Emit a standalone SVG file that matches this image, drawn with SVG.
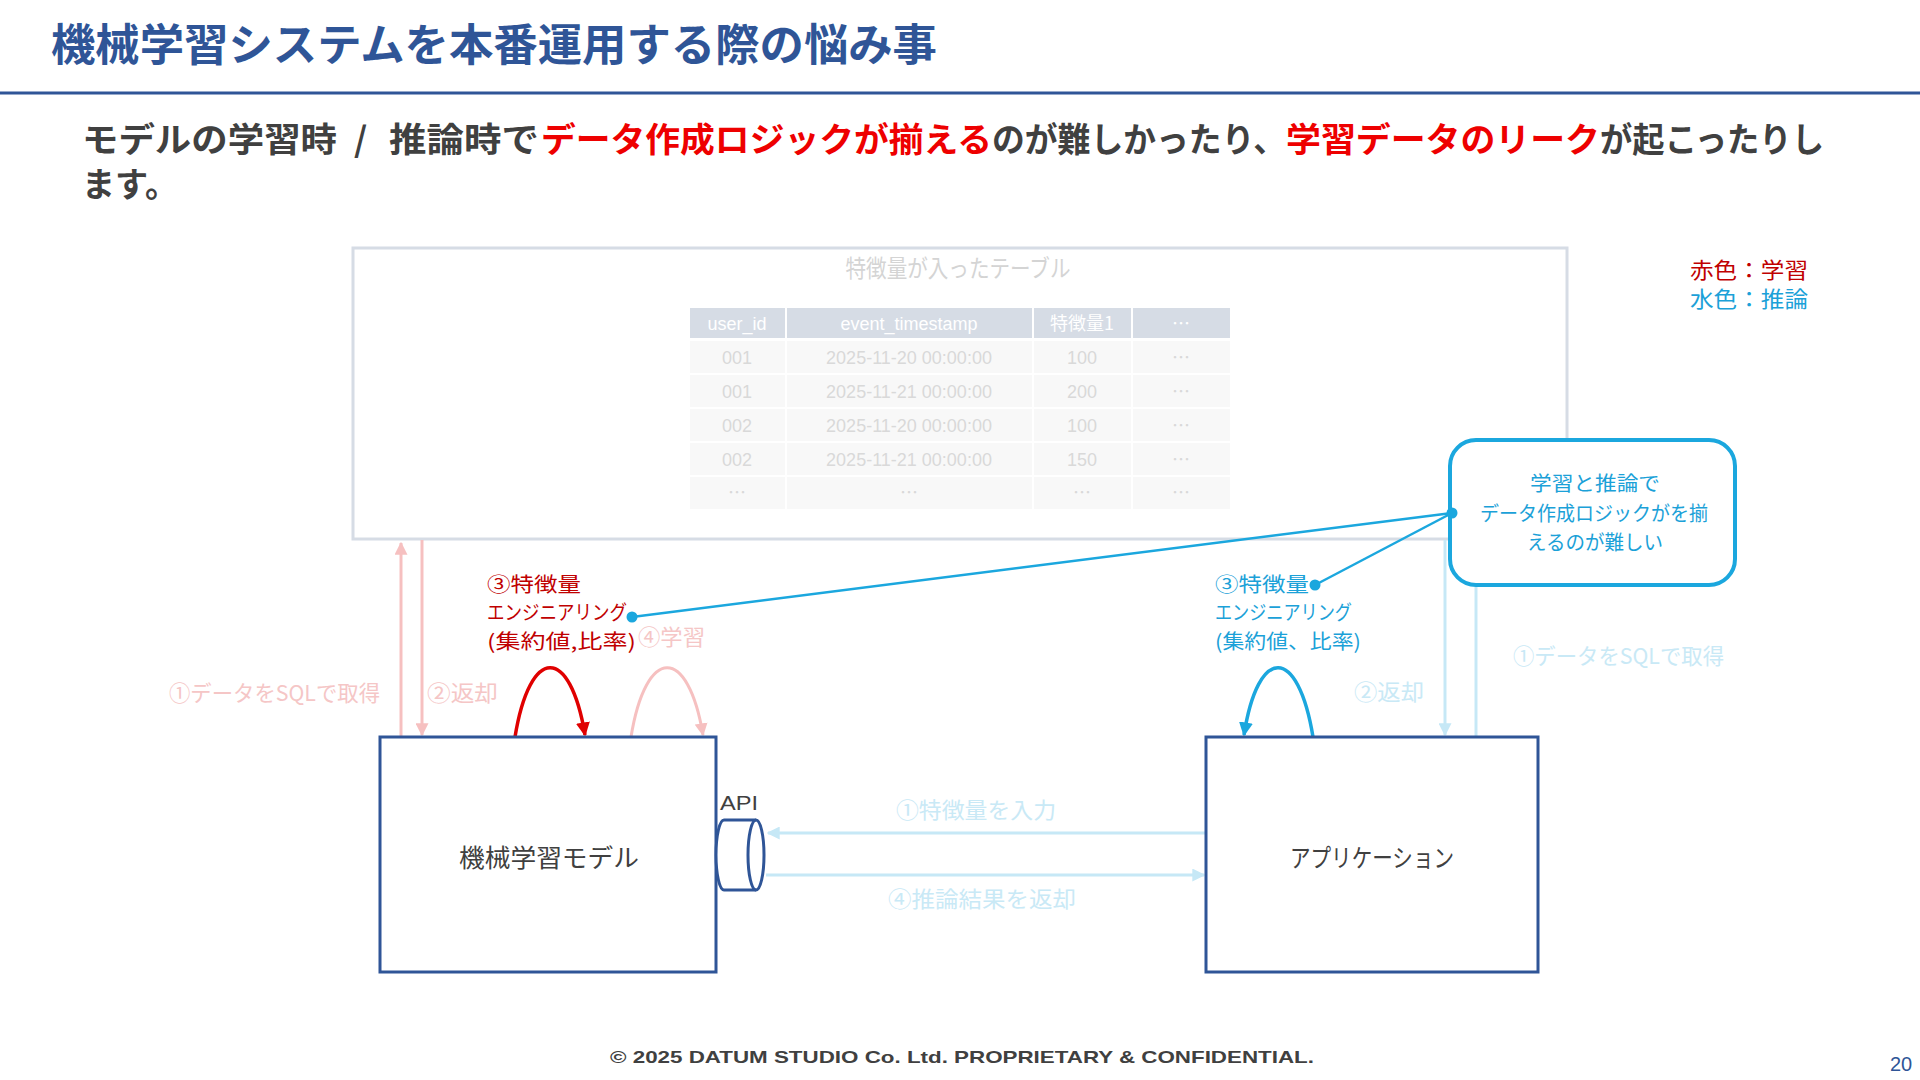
<svg xmlns="http://www.w3.org/2000/svg" width="1920" height="1080" viewBox="0 0 1920 1080">
<defs>
<style>
text{font-family:"Noto Sans CJK JP","Noto Sans",sans-serif;}
.lat{font-family:"Liberation Sans","Noto Sans CJK JP",sans-serif;}
.title{font-size:44px;font-weight:700;fill:#2F5597;}
.sub{font-size:34px;font-weight:700;fill:#404040;}
.subr{font-size:34px;font-weight:700;fill:#EE0000;}
.th{font-size:18px;fill:#FFFFFF;text-anchor:middle;}
.td{font-size:18px;fill:#D9D9D9;text-anchor:middle;}
.hdr{fill:#D6DCE5;}
.row{fill:#F8F8F8;}
.box{fill:#FFFFFF;stroke:#2F5597;stroke-width:3;}
.boxlbl{font-size:25px;fill:#404040;}
.red{font-size:20px;fill:#C00000;}
.cyan{font-size:20px;fill:#1BA1D8;}
.pinkt{font-size:22px;fill:#F5C6C6;}
.lcyant{font-size:22px;fill:#C9E9F6;}
.pink{fill:none;stroke:#F6C0C0;stroke-width:3;}
.lcyan{fill:none;stroke:#C6E8F6;stroke-width:3;}
.redl{fill:none;stroke:#E00000;stroke-width:3.5;}
.cyanl{fill:none;stroke:#1BA7DE;stroke-width:3.5;}
.call{fill:none;stroke:#1BA7DE;stroke-width:2.5;}
</style>
<marker id="mPink" viewBox="0 0 10 10" refX="9" refY="5" markerWidth="13" markerHeight="13" markerUnits="userSpaceOnUse" orient="auto"><path d="M0,0 L10,5 L0,10 z" fill="#F6C0C0"/></marker>
<marker id="mLcyan" viewBox="0 0 10 10" refX="9" refY="5" markerWidth="13" markerHeight="13" markerUnits="userSpaceOnUse" orient="auto"><path d="M0,0 L10,5 L0,10 z" fill="#C6E8F6"/></marker>
<marker id="mRed" viewBox="0 0 10 10" refX="9" refY="5" markerWidth="14" markerHeight="14" markerUnits="userSpaceOnUse" orient="auto"><path d="M0,0 L10,5 L0,10 z" fill="#E00000"/></marker>
<marker id="mCyan" viewBox="0 0 10 10" refX="9" refY="5" markerWidth="14" markerHeight="14" markerUnits="userSpaceOnUse" orient="auto"><path d="M0,0 L10,5 L0,10 z" fill="#1BA7DE"/></marker>
</defs>
<rect width="1920" height="1080" fill="#FFFFFF"/>

<g id="header">
<text class="title" x="51" y="61" textLength="886" lengthAdjust="spacingAndGlyphs">機械学習システムを本番運用する際の悩み事</text>
<line x1="0" y1="93" x2="1920" y2="93" stroke="#2F5597" stroke-width="3"/>
</g>

<g id="subtitle">
<text class="sub" x="82" y="152" textLength="255" lengthAdjust="spacingAndGlyphs">モデルの学習時</text>
<text class="sub" x="354" y="152">/</text>
<text class="sub" x="389" y="152" textLength="150" lengthAdjust="spacingAndGlyphs">推論時で</text>
<text class="subr" x="541" y="152" textLength="451" lengthAdjust="spacingAndGlyphs">データ作成ロジックが揃える</text>
<text class="sub" x="992" y="152" textLength="294" lengthAdjust="spacingAndGlyphs">のが難しかったり、</text>
<text class="subr" x="1286" y="152" textLength="314" lengthAdjust="spacingAndGlyphs">学習データのリーク</text>
<text class="sub" x="1600" y="152" textLength="224" lengthAdjust="spacingAndGlyphs">が起こったりし</text>
<text class="sub" x="82" y="197" textLength="96" lengthAdjust="spacingAndGlyphs">ます。</text>
</g>

<g id="legend">
<text x="1690" y="278" font-size="22" fill="#C00000" textLength="118" lengthAdjust="spacingAndGlyphs">赤色：学習</text>
<text x="1690" y="307" font-size="22" fill="#1BA1D8" textLength="118" lengthAdjust="spacingAndGlyphs">水色：推論</text>
</g>

<g id="feature-table">
<rect x="353" y="248" width="1214" height="291" fill="#FFFFFF" stroke="#D6DCE5" stroke-width="3"/>
<text x="958" y="277" font-size="24" fill="#D4D4D4" text-anchor="middle" textLength="225" lengthAdjust="spacingAndGlyphs">特徴量が入ったテーブル</text>
<rect class="hdr" x="690" y="308" width="95" height="30"/>
<rect class="hdr" x="787" y="308" width="245" height="30"/>
<rect class="hdr" x="1034" y="308" width="97" height="30"/>
<rect class="hdr" x="1133" y="308" width="97" height="30"/>
<text class="th lat" x="737" y="330">user_id</text>
<text class="th lat" x="909" y="330">event_timestamp</text>
<text class="th" x="1082" y="330">特徴量1</text>
<text class="th" x="1181" y="330">…</text>
<g>
<rect class="row" x="690" y="341" width="95" height="32"/><rect class="row" x="787" y="341" width="245" height="32"/><rect class="row" x="1034" y="341" width="97" height="32"/><rect class="row" x="1133" y="341" width="97" height="32"/>
<rect class="row" x="690" y="375" width="95" height="32"/><rect class="row" x="787" y="375" width="245" height="32"/><rect class="row" x="1034" y="375" width="97" height="32"/><rect class="row" x="1133" y="375" width="97" height="32"/>
<rect class="row" x="690" y="409" width="95" height="32"/><rect class="row" x="787" y="409" width="245" height="32"/><rect class="row" x="1034" y="409" width="97" height="32"/><rect class="row" x="1133" y="409" width="97" height="32"/>
<rect class="row" x="690" y="443" width="95" height="32"/><rect class="row" x="787" y="443" width="245" height="32"/><rect class="row" x="1034" y="443" width="97" height="32"/><rect class="row" x="1133" y="443" width="97" height="32"/>
<rect class="row" x="690" y="477" width="95" height="32"/><rect class="row" x="787" y="477" width="245" height="32"/><rect class="row" x="1034" y="477" width="97" height="32"/><rect class="row" x="1133" y="477" width="97" height="32"/>
</g>
<text class="td lat" x="737" y="364">001</text><text class="td lat" x="909" y="364">2025-11-20 00:00:00</text><text class="td lat" x="1082" y="364">100</text><text class="td" x="1181" y="364">…</text>
<text class="td lat" x="737" y="398">001</text><text class="td lat" x="909" y="398">2025-11-21 00:00:00</text><text class="td lat" x="1082" y="398">200</text><text class="td" x="1181" y="398">…</text>
<text class="td lat" x="737" y="432">002</text><text class="td lat" x="909" y="432">2025-11-20 00:00:00</text><text class="td lat" x="1082" y="432">100</text><text class="td" x="1181" y="432">…</text>
<text class="td lat" x="737" y="466">002</text><text class="td lat" x="909" y="466">2025-11-21 00:00:00</text><text class="td lat" x="1082" y="466">150</text><text class="td" x="1181" y="466">…</text>
<text class="td" x="737" y="499">…</text><text class="td" x="909" y="499">…</text><text class="td" x="1082" y="499">…</text><text class="td" x="1181" y="499">…</text>
</g>

<g id="connectors">
<line class="pink" x1="401" y1="737" x2="401" y2="543" marker-end="url(#mPink)"/>
<line class="pink" x1="422" y1="540" x2="422" y2="735" marker-end="url(#mPink)"/>
<path class="pink" d="M631,737 C646,645 688,645 703,735" marker-end="url(#mPink)"/>
<path class="redl" d="M515,737 C530,645 570,645 585,735" marker-end="url(#mRed)"/>
<line class="lcyan" x1="1445" y1="540" x2="1445" y2="735" marker-end="url(#mLcyan)"/>
<line class="lcyan" x1="1476" y1="737" x2="1476" y2="543" marker-end="url(#mLcyan)"/>
<path class="cyanl" d="M1313,737 C1298,645 1258,645 1244,735" marker-end="url(#mCyan)"/>
<line class="lcyan" x1="1206" y1="833" x2="768" y2="833" marker-end="url(#mLcyan)"/>
<line class="lcyan" x1="766" y1="875" x2="1204" y2="875" marker-end="url(#mLcyan)"/>
<line class="call" x1="1452" y1="513" x2="632" y2="617"/>
<line class="call" x1="1452" y1="513" x2="1315" y2="585"/>
</g>

<g id="callout">
<rect x="1450" y="440" width="285" height="145" rx="26" ry="26" fill="#FFFFFF" stroke="#1BA7DE" stroke-width="4"/>
<text class="cyan" x="1595" y="491" text-anchor="middle" textLength="130" lengthAdjust="spacingAndGlyphs">学習と推論で</text>
<text class="cyan" x="1594" y="521" text-anchor="middle" textLength="228" lengthAdjust="spacingAndGlyphs">データ作成ロジックがを揃</text>
<text class="cyan" x="1595" y="550" text-anchor="middle" textLength="136" lengthAdjust="spacingAndGlyphs">えるのが難しい</text>
</g>

<g id="dots">
<circle cx="1452" cy="513" r="5.5" fill="#1BA7DE"/>
<circle cx="632" cy="617" r="5.5" fill="#1BA7DE"/>
<circle cx="1315" cy="585" r="5.5" fill="#1BA7DE"/>
</g>

<g id="train-labels">
<text class="red" x="487" y="592" font-size="21" textLength="94" lengthAdjust="spacingAndGlyphs">③特徴量</text>
<text class="red" x="487" y="620" textLength="140" lengthAdjust="spacingAndGlyphs">エンジニアリング</text>
<text class="red" x="487" y="649" font-size="21" textLength="149" lengthAdjust="spacingAndGlyphs">(集約値,比率)</text>
<text class="pinkt" x="638" y="645" textLength="67" lengthAdjust="spacingAndGlyphs">④学習</text>
<text class="pinkt" x="169" y="701" textLength="211" lengthAdjust="spacingAndGlyphs">①データをSQLで取得</text>
<text class="pinkt" x="427" y="701" textLength="71" lengthAdjust="spacingAndGlyphs">②返却</text>
</g>

<g id="infer-labels">
<text class="cyan" x="1215" y="592" font-size="21" textLength="94" lengthAdjust="spacingAndGlyphs">③特徴量</text>
<text class="cyan" x="1215" y="620" textLength="137" lengthAdjust="spacingAndGlyphs">エンジニアリング</text>
<text class="cyan" x="1215" y="649" font-size="21" textLength="146" lengthAdjust="spacingAndGlyphs">(集約値、比率)</text>
<text class="lcyant" x="1354" y="700" textLength="70" lengthAdjust="spacingAndGlyphs">②返却</text>
<text class="lcyant" x="1513" y="664" textLength="211" lengthAdjust="spacingAndGlyphs">①データをSQLで取得</text>
<text class="lcyant" x="896" y="818" textLength="160" lengthAdjust="spacingAndGlyphs">①特徴量を入力</text>
<text class="lcyant" x="888" y="907" textLength="188" lengthAdjust="spacingAndGlyphs">④推論結果を返却</text>
</g>

<g id="ml-model">
<rect class="box" x="380" y="737" width="336" height="235"/>
<text class="boxlbl" x="459" y="867" textLength="180" lengthAdjust="spacingAndGlyphs">機械学習モデル</text>
</g>

<g id="api">
<path d="M724,820 L756,820 A8,35 0 0 1 756,890 L724,890 A8,35 0 0 1 724,820 Z" fill="#FFFFFF" stroke="#2F5597" stroke-width="3"/>
<path d="M756,820 A8,35 0 0 0 756,890" fill="none" stroke="#2F5597" stroke-width="3"/>
<text class="lat" x="720" y="810" font-size="21" fill="#404040" textLength="38" lengthAdjust="spacingAndGlyphs">API</text>
</g>

<g id="application">
<rect class="box" x="1206" y="737" width="332" height="235"/>
<text class="boxlbl" x="1290" y="867" textLength="164" lengthAdjust="spacingAndGlyphs">アプリケーション</text>
</g>

<g id="footer">
<text class="lat" x="610" y="1063" font-size="17" font-weight="700" fill="#404040" textLength="704" lengthAdjust="spacingAndGlyphs">© 2025 DATUM STUDIO Co. Ltd. PROPRIETARY &amp; CONFIDENTIAL.</text>
<text class="lat" x="1890" y="1071" font-size="20" fill="#2F5597">20</text>
</g>
</svg>
